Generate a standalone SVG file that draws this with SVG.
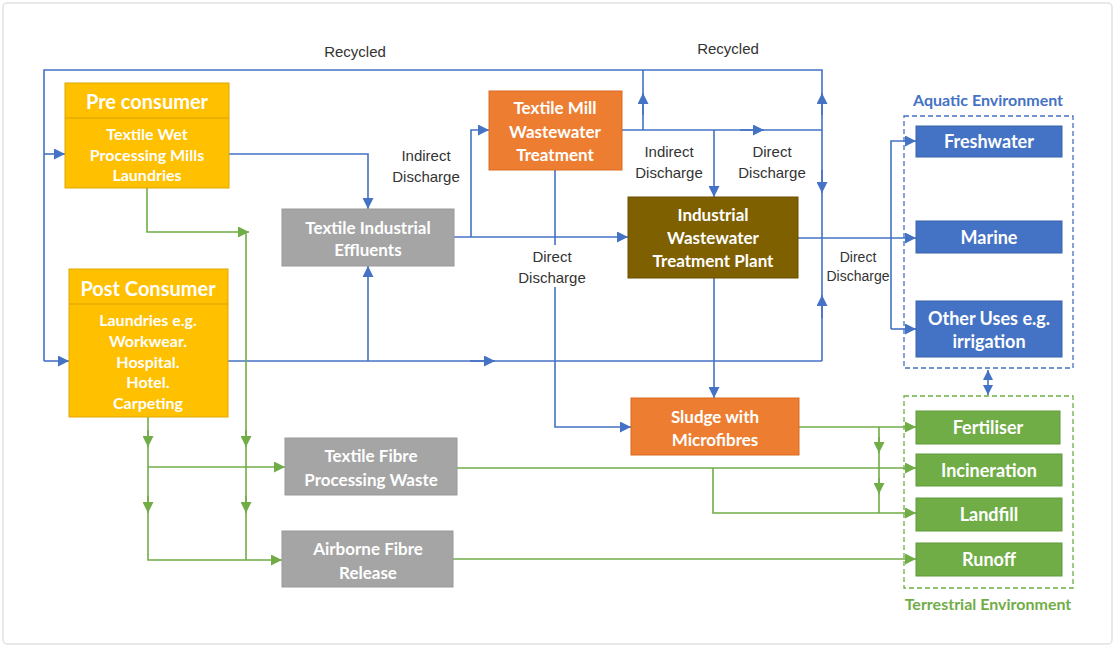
<svg xmlns="http://www.w3.org/2000/svg" width="1116" height="648" viewBox="0 0 1116 648">
<defs>
<marker id="ab" viewBox="0 0 10 10" refX="10" refY="5" markerWidth="12" markerHeight="11" markerUnits="userSpaceOnUse" orient="auto"><path d="M0,0 L10,5 L0,10 z" fill="#4472C4"/></marker>
<marker id="ag" viewBox="0 0 10 10" refX="10" refY="5" markerWidth="12" markerHeight="11" markerUnits="userSpaceOnUse" orient="auto"><path d="M0,0 L10,5 L0,10 z" fill="#70AD47"/></marker>
<marker id="abs" viewBox="0 0 10 10" refX="10" refY="5" markerWidth="10" markerHeight="10" markerUnits="userSpaceOnUse" orient="auto-start-reverse"><path d="M0,0 L10,5 L0,10 z" fill="#4472C4"/></marker>
<style>
.bl{fill:none;stroke:#4472C4;stroke-width:1.6}
.gr{fill:none;stroke:#70AD47;stroke-width:1.6}
.ma{marker-end:url(#ab)}
.mg{marker-end:url(#ag)}
.t{font-family:Lato,"Liberation Sans",sans-serif;font-weight:bold;fill:#fff;text-anchor:middle;dominant-baseline:central}
.h{font-size:20px}
.b{font-size:16px}
.m{font-size:17px}
.e{font-size:18px}
.lab{font-family:"Liberation Sans",Arial,sans-serif;font-size:15px;fill:#333;text-anchor:middle;dominant-baseline:central}
.env{font-family:Lato,"Liberation Sans",sans-serif;font-weight:bold;font-size:16px;text-anchor:middle;dominant-baseline:central}
.gold{fill:#FFC000;stroke:#E0A800;stroke-width:1}
.gray{fill:#A5A5A5;stroke:#999;stroke-width:1}
.org{fill:#ED7D31;stroke:#D96B20;stroke-width:1}
.brn{fill:#7F6000;stroke:#6B5000;stroke-width:1}
.blu{fill:#4472C4;stroke:#3A62AA;stroke-width:1}
.grn{fill:#70AD47;stroke:#5E9A3A;stroke-width:1}
</style>
</defs>
<rect x="3" y="3" width="1109" height="641" rx="4" fill="#fff" stroke="#e2e2e2" stroke-width="1.5"/>

<g id="connectors">
<path class="bl" d="M822,361 V70 H44 V361"/>
<path class="bl ma" d="M44,154 H65"/>
<path class="bl ma" d="M44,361 H69"/>
<path class="bl ma" d="M229,154 H368 V209"/>
<path class="bl ma" d="M454,237 H628"/>
<path class="bl ma" d="M471,237 V130 H489"/>
<path class="bl ma" d="M555,170 V427 H631"/>
<path class="bl" d="M622,130 H822"/>
<path class="bl ma" d="M740,130 H764"/>
<path class="bl" d="M643,130 V70"/>
<path class="bl ma" d="M643,115 V93"/>
<path class="bl ma" d="M822,115 V93"/>
<path class="bl ma" d="M714,130 V197"/>
<path class="bl ma" d="M822,170 V193"/>
<path class="bl" d="M228,361 H822"/>
<path class="bl ma" d="M470,361 H495"/>
<path class="bl ma" d="M368,361 V266"/>
<path class="bl ma" d="M822,318 V295"/>
<path class="bl ma" d="M798,238 H916"/>
<path class="bl ma" d="M714,278 V398"/>
<path class="bl ma" d="M891,329 V141 H916"/>
<path class="bl ma" d="M891,329 H916"/>
<path class="bl" d="M988,370 V395" style="marker-start:url(#abs);marker-end:url(#abs)"/>

<path class="gr mg" d="M147,188 V232 H249"/>
<path class="gr" d="M246,232 V560"/>
<path class="gr mg" d="M246,430 V447"/>
<path class="gr mg" d="M246,496 V513"/>
<path class="gr mg" d="M148,417 V560 H282"/>
<path class="gr mg" d="M148,430 V447"/>
<path class="gr mg" d="M148,496 V513"/>
<path class="gr mg" d="M148,467 H285"/>
<path class="gr mg" d="M799,427 H916"/>
<path class="gr" d="M879,427 V513"/>
<path class="gr mg" d="M879,437 V453"/>
<path class="gr mg" d="M879,478 V494"/>
<path class="gr mg" d="M457,468 H916"/>
<path class="gr mg" d="M713,468 V513 H916"/>
<path class="gr mg" d="M453,559 H916"/>
</g>

<g id="labels">
<text class="lab" x="355" y="51">Recycled</text>
<text class="lab" x="728" y="48">Recycled</text>
<text class="lab" x="426" y="155">Indirect</text>
<text class="lab" x="426" y="176">Discharge</text>
<text class="lab" x="669" y="151">Indirect</text>
<text class="lab" x="669" y="172">Discharge</text>
<text class="lab" x="772" y="151">Direct</text>
<text class="lab" x="772" y="172">Discharge</text>
<rect x="513" y="245" width="78" height="42" fill="#fff"/>
<text class="lab" x="552" y="256">Direct</text>
<text class="lab" x="552" y="277">Discharge</text>
<text class="lab" x="858" y="257" style="font-size:14px">Direct</text>
<text class="lab" x="858" y="276" style="font-size:14px">Discharge</text>
</g>

<g id="pre-consumer">
<rect class="gold" x="65" y="83" width="164" height="105"/>
<line x1="65" y1="118" x2="229" y2="118" stroke="#D9A000" stroke-width="1"/>
<text class="t h" x="147" y="101">Pre consumer</text>
<text class="t b" x="147" y="133">Textile Wet</text>
<text class="t b" x="147" y="154">Processing Mills</text>
<text class="t b" x="147" y="174">Laundries</text>
</g>

<g id="post-consumer">
<rect class="gold" x="69" y="269" width="159" height="148"/>
<line x1="69" y1="304" x2="228" y2="304" stroke="#D9A000" stroke-width="1"/>
<text class="t h" x="148" y="288">Post Consumer</text>
<text class="t b" x="148" y="319">Laundries e.g.</text>
<text class="t b" x="148" y="340">Workwear.</text>
<text class="t b" x="148" y="361">Hospital.</text>
<text class="t b" x="148" y="381">Hotel.</text>
<text class="t b" x="148" y="402">Carpeting</text>
</g>

<g id="textile-industrial-effluents">
<rect class="gray" x="282" y="209" width="172" height="57"/>
<text class="t m" x="368" y="227">Textile Industrial</text>
<text class="t m" x="368" y="249">Effluents</text>
</g>

<g id="textile-mill-wwt">
<rect class="org" x="489" y="91" width="133" height="79"/>
<text class="t m" x="555" y="107">Textile Mill</text>
<text class="t m" x="555" y="131">Wastewater</text>
<text class="t m" x="555" y="154">Treatment</text>
</g>

<g id="industrial-wwtp">
<rect class="brn" x="628" y="197" width="170" height="81"/>
<text class="t m" x="713" y="214">Industrial</text>
<text class="t m" x="713" y="237">Wastewater</text>
<text class="t m" x="713" y="260">Treatment Plant</text>
</g>

<g id="sludge">
<rect class="org" x="631" y="398" width="168" height="57"/>
<text class="t m" x="715" y="416">Sludge with</text>
<text class="t m" x="715" y="439">Microfibres</text>
</g>

<g id="textile-fibre-waste">
<rect class="gray" x="285" y="438" width="172" height="57"/>
<text class="t m" x="371" y="455">Textile Fibre</text>
<text class="t m" x="371" y="479">Processing Waste</text>
</g>

<g id="airborne-fibre">
<rect class="gray" x="282" y="531" width="171" height="56"/>
<text class="t m" x="368" y="548">Airborne Fibre</text>
<text class="t m" x="368" y="572">Release</text>
</g>

<g id="aquatic-environment">
<rect x="904" y="116" width="169" height="252" fill="none" stroke="#4472C4" stroke-width="1.3" stroke-dasharray="5,3"/>
<text class="env" x="988" y="99" fill="#4472C4">Aquatic Environment</text>
</g>
<g id="freshwater">
<rect class="blu" x="916" y="126" width="146" height="31"/>
<text class="t e" x="989" y="141">Freshwater</text>
</g>
<g id="marine">
<rect class="blu" x="916" y="221" width="146" height="32"/>
<text class="t e" x="989" y="237">Marine</text>
</g>
<g id="other-uses">
<rect class="blu" x="916" y="301" width="146" height="56"/>
<text class="t e" x="989" y="318">Other Uses e.g.</text>
<text class="t e" x="989" y="341">irrigation</text>
</g>

<g id="terrestrial-environment">
<rect x="904" y="396" width="169" height="192" fill="none" stroke="#70AD47" stroke-width="1.3" stroke-dasharray="5,3"/>
<text class="env" x="988" y="603" fill="#70AD47">Terrestrial Environment</text>
</g>
<g id="fertiliser">
<rect class="grn" x="916" y="411" width="144" height="33"/>
<text class="t e" x="988" y="427">Fertiliser</text>
</g>
<g id="incineration">
<rect class="grn" x="916" y="454" width="146" height="32"/>
<text class="t e" x="989" y="470">Incineration</text>
</g>
<g id="landfill">
<rect class="grn" x="916" y="498" width="146" height="33"/>
<text class="t e" x="989" y="514">Landfill</text>
</g>
<g id="runoff">
<rect class="grn" x="916" y="543" width="146" height="33"/>
<text class="t e" x="989" y="559">Runoff</text>
</g>
</svg>
